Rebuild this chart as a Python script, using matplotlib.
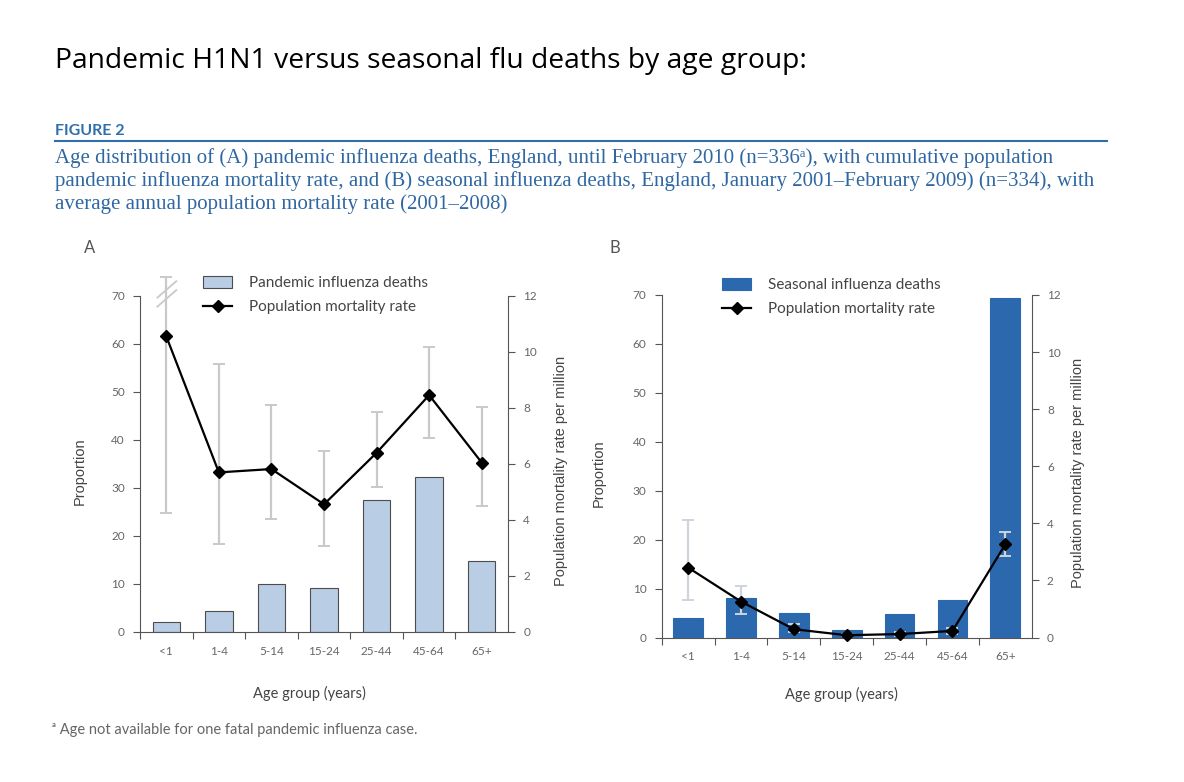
import numpy as np
import matplotlib
matplotlib.use('Agg')
from matplotlib import pyplot as plt
from matplotlib.lines import Line2D

# datos
ages = ['<1', '1-4', '5-14', '15-24', '25-44', '45-64', '65+']

# (A) pandemia
pandemic_prop = [2.1, 4.4, 10.1, 9.1, 27.5, 32.2, 14.8]
pandemic_rate = [10.56, 5.70, 5.82, 4.56, 6.40, 8.46, 6.05]
pandemic_lo = [4.24, 3.13, 4.02, 3.08, 5.18, 6.94, 4.49]
pandemic_hi = [12.68, 9.57, 8.11, 6.46, 7.87, 10.17, 8.05]

# (B) estacional
seasonal_prop = [3.9, 8.0, 5.1, 1.5, 4.8, 7.6, 69.4]
seasonal_rate = [2.45, 1.26, 0.29, 0.08, 0.12, 0.23, 3.26]
seasonal_lo = [1.30, 0.84, 0.18, 0.04, 0.06, 0.14, 2.85]
seasonal_hi = [4.13, 1.81, 0.47, 0.14, 0.20, 0.34, 3.68]

GREY = '#555555'
SANS = ['Lato', 'DejaVu Sans']
ARIAL = ['Liberation Sans', 'DejaVu Sans']
BLUE_TXT = '#2f67a3'

fig = plt.figure(figsize=(11.84, 7.82), dpi=100)
W, H = 1184, 782


def fx(px):
    return px / W


def fy(py):
    return 1 - py / H


def panel(rect, props, rates, lo, hi, bar_color, bar_edge, bar_w, err_color, bar_label, leg_xy):
    ax = fig.add_axes(rect)
    ax2 = ax.twinx()
    x = np.arange(len(ages))

    bars = ax.bar(x, props, bar_w, color=bar_color, edgecolor=bar_edge, linewidth=0.8,
                  label=bar_label, zorder=2)
    rates = np.array(rates)
    yerr = [rates - np.array(lo), np.array(hi) - rates]
    ax2.errorbar(x, rates, yerr=yerr, fmt='none', ecolor=err_color, elinewidth=1.6,
                 capsize=4, capthick=1.4, clip_on=False, zorder=3)
    line, = ax2.plot(x, rates, color='black', lw=1.6, marker='D', markersize=6.5,
                     label='Population mortality rate', zorder=4, clip_on=False)

    ax.set_xlim(-0.49, 6.5)
    ax.set_ylim(0, 70)
    ax2.set_ylim(0, 12)
    ax.set_yticks(range(0, 71, 10))
    ax2.set_yticks(range(0, 13, 2))

    for a in (ax, ax2):
        a.spines['top'].set_visible(False)
        for s in a.spines.values():
            s.set_color(GREY)
            s.set_linewidth(0.8)
    ax.spines['right'].set_visible(False)
    ax2.spines['left'].set_visible(False)
    ax2.spines['bottom'].set_visible(False)

    ax.set_xticks(x)
    ax.set_xticklabels(ages)
    ax.set_xticks(np.arange(-0.5, 6.0, 1), minor=True)
    ax.tick_params(axis='x', which='major', length=0, pad=10, labelsize=8.5, labelcolor='#666666')
    ax.tick_params(axis='x', which='minor', length=5, color=GREY, width=0.8)
    ax.tick_params(axis='y', length=5, color=GREY, width=0.8, labelsize=8.5, labelcolor='#666666', pad=6)
    ax2.tick_params(axis='y', length=5, color=GREY, width=0.8, labelsize=8.5, labelcolor='#666666', pad=6)
    for lab in ax.get_xticklabels() + ax.get_yticklabels() + ax2.get_yticklabels():
        lab.set_family(SANS)

    ax.set_ylabel('Proportion', family=ARIAL, fontsize=10.5, color='#444444')
    ax2.set_ylabel('Population mortality rate per million', family=ARIAL, fontsize=10.5,
                   color='#444444')
    ax.set_xlabel('Age group (years)', family=SANS, fontsize=10.5, color='#444444')

    ax.legend(handles=[bars, line], loc='upper left', bbox_to_anchor=leg_xy,
              bbox_transform=fig.transFigure, frameon=False, handlelength=1.9,
              handleheight=0.8, handletextpad=1.1, labelspacing=0.65, borderpad=0,
              borderaxespad=0, prop={'family': SANS, 'size': 11}, labelcolor='#444444')
    return ax, ax2


# panel A
axA, axA2 = panel([fx(140), fy(632), fx(368), (632 - 296) / H], pandemic_prop, pandemic_rate,
                  pandemic_lo, pandemic_hi, '#b9cde5', '#4d4d4d', 0.52, '#c9c9c9',
                  'Pandemic influenza deaths', (fx(203), fy(276)))
axA.yaxis.set_label_coords(-0.145, 0.48)
axA2.yaxis.set_label_coords(1.125, 0.48)
axA.xaxis.set_label_coords(0.46, -0.16)
# marca de corte del eje
for off in (0.0, 0.32):
    axA2.plot([-0.17, 0.19], [11.62 + off, 12.21 + off], color='#c9c9c9', lw=1.3,
              clip_on=False, zorder=5)

# panel B
axB, axB2 = panel([fx(661.7), fy(637.5), fx(370), (637.5 - 295) / H], seasonal_prop,
                  seasonal_rate, seasonal_lo, seasonal_hi, '#2b68ae', '#2b68ae', 0.56,
                  '#cdd4dc', 'Seasonal influenza deaths', (fx(722), fy(278)))
axB.yaxis.set_label_coords(-0.15, 0.48)
axB2.yaxis.set_label_coords(1.105, 0.48)
axB.xaxis.set_label_coords(0.487, -0.145)

# textos de la figura
fig.text(fx(55), fy(61), 'Pandemic H1N1 versus seasonal flu deaths by age group:',
         family=['Open Sans', 'DejaVu Sans'], fontsize=20.3, va='center', ha='left', color='black')
fig.text(fx(55), fy(131), 'FIGURE 2', family=SANS, fontsize=11.5, weight='bold',
         color='#2f6fab', va='center', ha='left')
fig.add_artist(Line2D([fx(55), fx(1107)], [fy(141), fy(141)], color='#2f6fab', lw=1.5))
caption = ('Age distribution of (A) pandemic influenza deaths, England, until February 2010 (n=336\u1d43), with cumulative population\n'
           'pandemic influenza mortality rate, and (B) seasonal influenza deaths, England, January 2001\u2013February 2009) (n=334), with\n'
           'average annual population mortality rate (2001\u20132008)')
fig.text(fx(55), fy(148), caption, family=['Liberation Serif', 'DejaVu Serif'], fontsize=15,
         color=BLUE_TXT, va='top', ha='left', linespacing=1.22)
fig.text(fx(90), fy(248), 'A', family=SANS, fontsize=12, color=GREY, ha='center', va='center')
fig.text(fx(615), fy(248), 'B', family=SANS, fontsize=12, color=GREY, ha='center', va='center')
fig.text(fx(52), fy(730), '\u1d43 Age not available for one fatal pandemic influenza case.',
         family=SANS, fontsize=10.5, color='#666666', va='center', ha='left')

fig.savefig('out.png', dpi=100)
